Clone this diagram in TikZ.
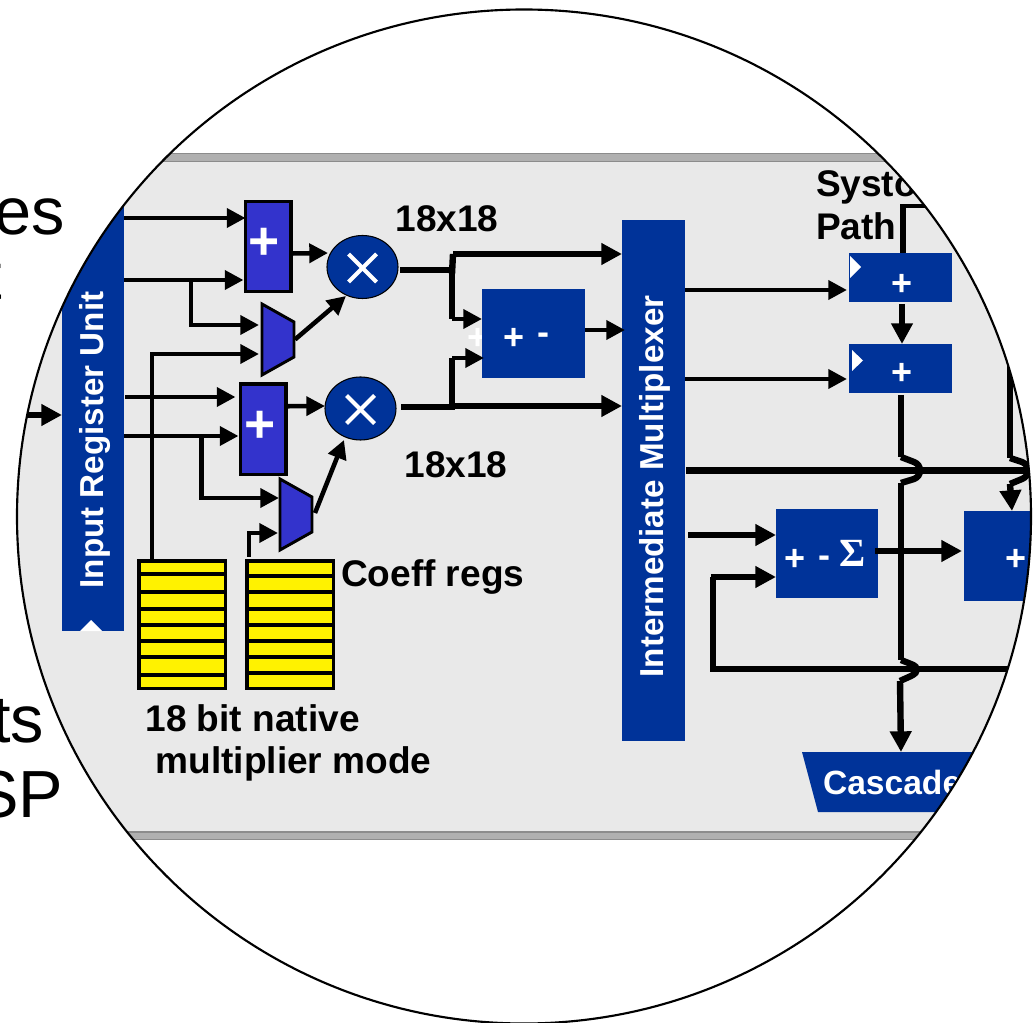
\documentclass[tikz,border=0pt]{standalone}
\usepackage{fontspec}
\setmainfont{Liberation Sans}
\newfontfamily\sigfont{Liberation Serif}
\usetikzlibrary{arrows.meta,calc,shapes.geometric}
\definecolor{dspblue}{HTML}{003399}
\definecolor{addblue}{HTML}{3333CC}
\definecolor{panelgray}{HTML}{E9E9E9}
\definecolor{stripegray}{HTML}{B0B0B0}
\definecolor{stripeedge}{HTML}{8C8C8C}
\definecolor{regyellow}{HTML}{FFF200}
\newcommand{\pixbox}[6]{%
  \pgfmathsetmacro\myw{(#5-#3)*0.75}%
  \pgfmathsetmacro\myh{(#6-#4)*0.75}%
  \node[#1,minimum width=\myw pt,minimum height=\myh pt] (#2) at ({(#3+#5)/2},{(#4+#6)/2}) {};}
\tikzset{
  every node/.style={inner sep=0pt,outer sep=0pt},
  bigtext/.style={font=\fontsize{50}{50}\selectfont,anchor=base east,text=black},
  lab/.style={font=\fontsize{27.8}{30}\selectfont\bfseries,anchor=base west,text=black},
  vlab/.style={font=\fontsize{24.9}{30}\selectfont\bfseries,rotate=90,anchor=base,text=white},
  blue box/.style={rectangle,fill=dspblue},
  add box/.style={rectangle,fill=addblue,draw=black,line width=2.4pt},
  reg box/.style={rectangle,fill=regyellow,draw=black,line width=2.6pt},
  ghost/.style={rectangle},
  mult/.style={ellipse,fill=dspblue,draw=black,line width=0.8pt},
  muxshape/.style={fill=addblue,draw=black,line width=2.2pt,line join=miter},
  bigplus/.style={font=\fontsize{40}{40}\selectfont\bfseries,text=white},
  smallplus/.style={font=\fontsize{27}{27}\selectfont\bfseries,text=white},
  wire/.style={draw=black,line width=3.4pt,-{Triangle[length=14pt,width=14pt]}},
  fatwire/.style={draw=black,line width=4.8pt,-{Triangle[length=15.5pt,width=15.5pt]}},
  plainwire/.style={draw=black,line width=3.4pt},
  fatplain/.style={draw=black,line width=4.8pt},
  regline/.style={draw=black,line width=2.4pt},
  xmark/.style={draw=white,line width=3pt},
}
\begin{document}
\begin{tikzpicture}[x=0.75pt,y=-0.75pt]
\useasboundingbox (0,0) rectangle (1036,1023);
\path[clip] (0,0) rectangle (1036,1023);
% text behind the magnifier
\node[bigtext] (txtes) at (65,235) {es};
\node[bigtext] (txt) at (2,300) {t};
\node[bigtext] (txts) at (44,742) {ts};
\node[bigtext] (txsp) at (63,817) {SP};
\fill[white] (524,516.5) circle[radius=507];
\begin{scope}
\clip (524,516.5) circle[radius=507];
% panel
\fill[panelgray] (0,153) rectangle (1036,840);
\fill[stripegray] (0,153) rectangle (1036,161);
\draw[stripeedge,line width=0.9pt] (0,153.5) -- (1036,153.5);
\draw[stripeedge,line width=0.7pt] (0,161) -- (1036,161);
\fill[stripegray] (0,832) rectangle (1036,840);
\draw[stripeedge,line width=0.9pt] (0,832) -- (1036,832);
\draw[stripeedge,line width=0.7pt] (0,839.5) -- (1036,839.5);

% named ports / free ends
\coordinate (inA) at (20,415);
\coordinate (ir1) at (124,218);
\coordinate (ir2) at (124,280);
\coordinate (ir3) at (125,397);
\coordinate (ir4) at (124,436);
\coordinate (tap1) at (191,280);
\coordinate (tap1b) at (191,325);
\coordinate (tap2) at (201.5,436);
\coordinate (tap2b) at (201.5,498);
\coordinate (sysTop) at (903,206);
\coordinate (sysEnd) at (1036,206);
\coordinate (node1) at (452,270);
\coordinate (node1up) at (453,254);
\coordinate (node1dn) at (452,319);
\coordinate (node2) at (452,407);
\coordinate (node2up) at (452,358);
\coordinate (busA) at (686,470.5);
\coordinate (busAe) at (1029,470.5);
\coordinate (busB) at (710,669);
\coordinate (busBe) at (1036,669);
\coordinate (fbUp) at (713,577);
\coordinate (hA1) at (901,457);
\coordinate (hA2) at (901,483);
\coordinate (hB1) at (901,660);
\coordinate (hB2) at (900,681);
\coordinate (hC0) at (1010,355);
\coordinate (hC1) at (1010,458);
\coordinate (hC2) at (1010,484);

% Input Register Unit and multiplexer columns
\pixbox{blue box}{iru}{62}{150}{124}{631}
\fill[white] (80,631) -- (91,620) -- (102,631) -- cycle;
\node[vlab] (irutxt) at (103,440) {Input Register Unit};
\pixbox{blue box}{imx}{622}{220}{685}{741}
\node[vlab] (imxtxt) at (663,486.5) {Intermediate Multiplexer};

% registers
\pixbox{reg box}{rega}{139.2}{561}{225.5}{688.5}
\pixbox{reg box}{regb}{246.8}{561}{333.3}{688.5}
\foreach \yy in {574,592,609,625,641,657,675}
  \draw[regline] (rega.west |- 0,\yy) -- (rega.east |- 0,\yy);
\foreach \yy in {576,592,609,625,641,657,673}
  \draw[regline] (regb.west |- 0,\yy) -- (regb.east |- 0,\yy);

% adders
\pixbox{add box}{adda}{245.5}{201.5}{291}{291.5}
\pixbox{add box}{addb}{240.5}{384}{286}{474.5}
\node[bigplus] (addap) at (264,244) {+};
\node[bigplus] (addbp) at (260,427) {+};

% muxes
\pixbox{ghost}{muxa}{262}{304}{294}{375}
\draw[muxshape] (muxa.north west) -- ($(muxa.north east)+(0,18)$) -- ($(muxa.south east)+(0,-18)$) -- (muxa.south west) -- cycle;
\pixbox{ghost}{muxb}{280}{479}{312}{550}
\draw[muxshape] (muxb.north west) -- ($(muxb.north east)+(0,18)$) -- ($(muxb.south east)+(0,-18)$) -- (muxb.south west) -- cycle;

% multipliers
\pixbox{mult}{mula}{327}{235.5}{398}{298.5}
\pixbox{mult}{mulb}{325}{377}{396}{440}
\draw[xmark] ($(mula.center)+(-14,-13)$) -- ($(mula.center)+(14,15)$);
\draw[xmark] ($(mula.center)+(-14,15)$) -- ($(mula.center)+(14,-13)$);
\draw[xmark] ($(mulb.center)+(-14,-13)$) -- ($(mulb.center)+(14,15)$);
\draw[xmark] ($(mulb.center)+(-14,15)$) -- ($(mulb.center)+(14,-13)$);

% blue function blocks
\node[smallplus] (ghostplus) at (478,339) {+};
\pixbox{blue box}{addsub}{482}{289}{585}{378}
\node[smallplus] (addsubp) at (514,339) {+};
\node[smallplus] (addsubm) at (543,339) {-};
\pixbox{blue box}{sysa}{849}{253}{952}{302}
\pixbox{blue box}{sysb}{849}{344}{952}{393}
\fill[white] (850,256) -- (861,267) -- (850,278) -- cycle;
\fill[white] (852,350) -- (863,360.5) -- (852,371) -- cycle;
\node[smallplus] (sysap) at (902,284.5) {+};
\node[smallplus] (sysbp) at (902,374) {+};
\pixbox{blue box}{sumbox}{776}{509}{878}{598}
\node[smallplus] (sump) at (795,560) {+};
\node[smallplus] (summ) at (824,562) {-};
\node[font=\fontsize{30}{30}\selectfont\bfseries\sigfont,text=white] (sums) at (853,553) {Σ};
\pixbox{blue box}{outbox}{964}{511}{1040}{601}
\node[smallplus] (outp) at (1016,560) {+};
\pixbox{ghost}{casc}{802}{752}{1040}{812}
\fill[dspblue] (casc.north west) -- (casc.north east) -- (casc.south east) -- ($(casc.south west)+(16,0)$) -- cycle;
\node[font=\fontsize{25.2}{30}\selectfont\bfseries,anchor=base west,text=white] (casctxt) at (823,794) {Cascade};

% labels
\node[lab] (l18a) at (395.5,232) {18x18};
\node[lab] (l18b) at (404.5,478) {18x18};
\node[lab] (lcoef) at (341,586) {Coeff regs};
\node[lab] (lnat) at (145.5,731) {18 bit native};
\node[lab] (lmul) at (155.5,773) {multiplier mode};
\node[lab] (lsys) at (816,197) {Systolic};
\node[lab] (lpath) at (816,240) {Path};

% thin wires, left part
\draw[fatwire] (inA) -- (inA -| iru.west);
\draw[wire] (ir1) -- (ir1 -| adda.west);
\draw[wire] (ir2) -- ($(ir2 -| adda.west)+(-2,0)$);
\draw[plainwire,line join=miter] (tap1) -- (tap1b) -- (tap1b -| 205,0);
\draw[wire] (tap1b) -- ($(tap1b -| muxa.west)+(-3,0)$);
\draw[wire,rounded corners=0pt] (rega.north -| 152,0) ++(0,0) -- (152,354) -- ($(152,354 -| muxa.west)+(-3,0)$);
\draw[wire] (ir3) -- ($(ir3 -| addb.west)+(-5,0)$);
\draw[wire] (ir4) -- ($(ir4 -| addb.west)+(-2,0)$);
\draw[wire] (tap2) -- (tap2b) -- ($(tap2b -| muxb.west)+(-1,0)$);
\draw[wire] (regb.north -| 249,0) ++(0,-4) -- (249,533) -- ($(249,533 -| muxb.west)+(-2,0)$);
\draw[wire] ($(adda.east)+(1,7)$) -- ($(mula.west)+(1,-14)$);
\draw[wire] ($(addb.east)+(1,-23)$) -- ($(mulb.west)+(0,-2.5)$);
\draw[wire] ($(muxa.east)+(1,0)$) -- (346,296);
\draw[wire] (315,513) -- (344,440);

% thick wires, middle part
\draw[fatplain] (mula.east |- node1) ++(2,0) -- (node1) -- (node1dn);
\draw[fatplain] (452,274) -- (node1up);
\draw[fatwire] (node1up) -- (node1up -| imx.west);
\draw[wire] (node1dn) -- (node1dn -| addsub.west);
\draw[fatwire] (mulb.east |- node2) ++(5,0) -- (node2) -- (452,406) -- (452,406 -| imx.west);
\draw[fatplain] (node2) -- (node2up);
\draw[wire] (node2up) -- ($(node2up -| addsub.west)+(2,0)$);
\draw[wire] (addsub.east |- 0,330) -- ($(imx.west |- 0,330)+(3,0)$);

% right part
\draw[wire] (imx.east |- 0,290) -- ($(sysa.west |- 0,290)+(-2,0)$);
\draw[wire] (imx.east |- 0,379) -- ($(sysb.west |- 0,379)+(-2,0)$);
\draw[plainwire] (sysTop) -- (sysEnd);
\draw[fatplain] (sysa.north -| sysTop) -- ($(sysTop)+(0,-2)$);
\draw[fatwire] (902,304) -- (902,344);
\draw[fatplain] (901,395) -- (hA1);
\draw[fatplain] (hA1) -- (914,462) .. controls (922,465) and (922,476) .. (914,479) -- (hA2);
\draw[fatplain] (hA2) -- (hB1);
\draw[fatplain] (hB1) -- (911,664) .. controls (919,667) and (919,672) .. (911,676) -- (hB2);
\draw[fatwire] (hB2) -- (casc.north -| 901,0);
\draw[fatplain] (busA) -- (busAe);
\draw[fatplain] (hC0) -- (hC1);
\draw[fatplain] (hC1) -- (1022,462) .. controls (1030,465) and (1030,476) .. (1022,479) -- (hC2);
\draw[fatwire] (hC2) -- (outbox.north -| 1012,0);
\draw[fatwire] (688,535) -- (688,535 -| sumbox.west);
\draw[fatwire] (875,551) -- ($(875,551 -| outbox.west)+(-2,0)$);
\draw[fatplain] (busB) -- (busBe);
\draw[fatplain] (713,671) -- (fbUp);
\draw[fatwire] (710.8,577) -- (fbUp -| sumbox.west);
\end{scope}
\node[draw=black,line width=1.6pt,circle,minimum size=760.5pt] (lens) at (524,516.5) {};
\end{tikzpicture}
\end{document}
